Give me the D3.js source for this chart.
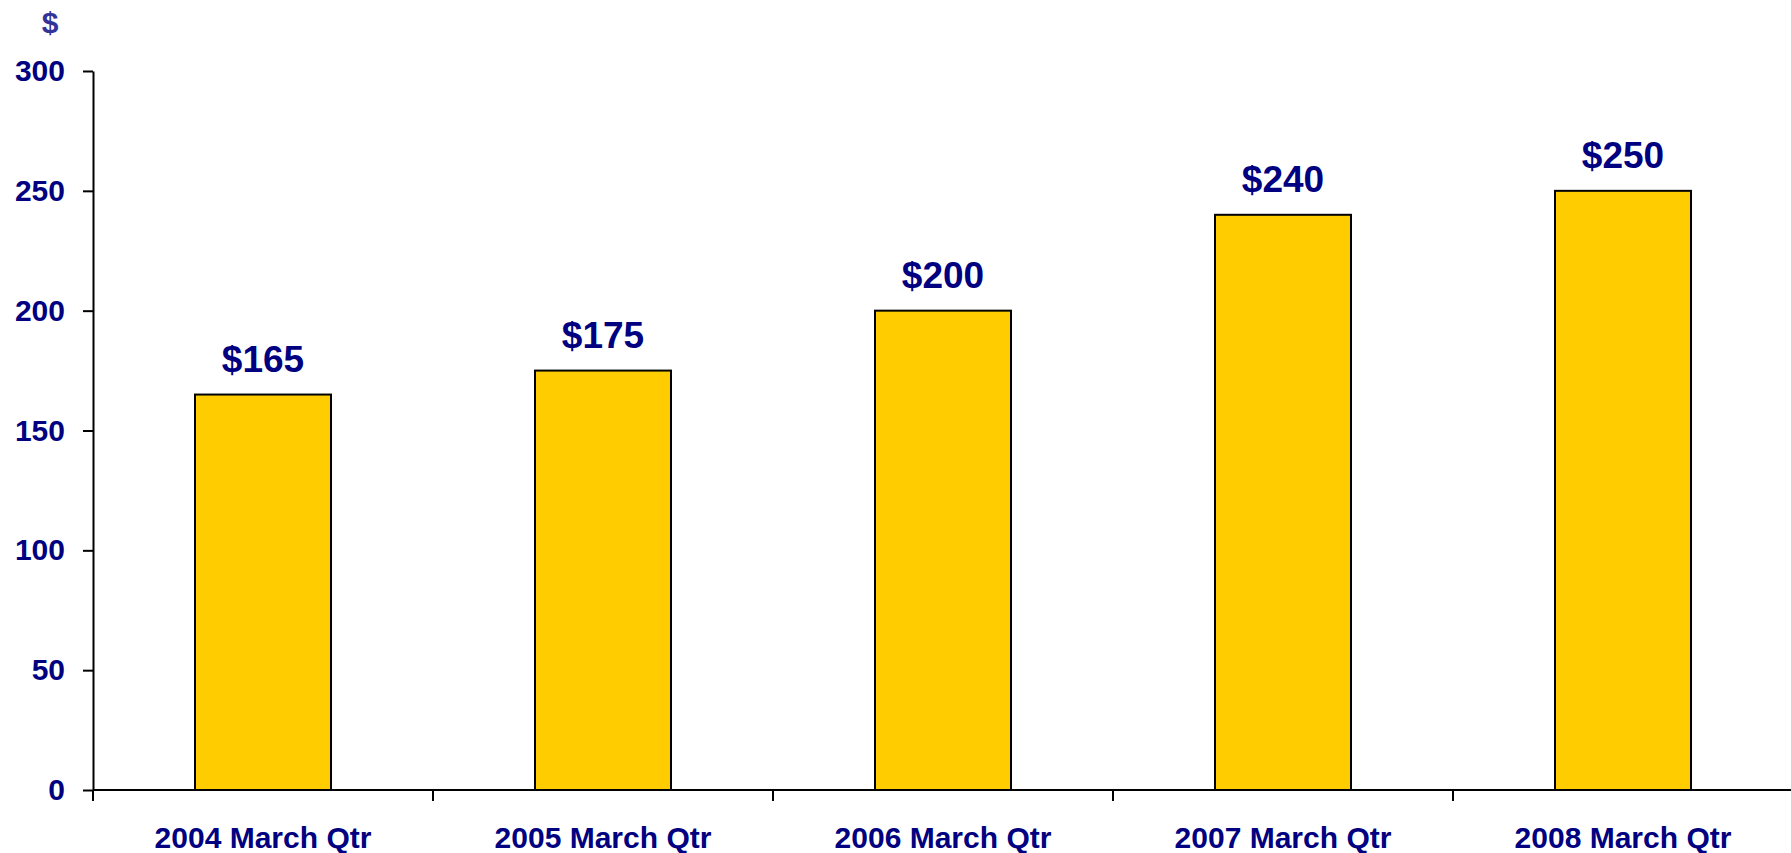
<!DOCTYPE html>
<html>
<head>
<meta charset="utf-8">
<script src="https://cdn.jsdelivr.net/npm/d3@7"></script>
<style>
  html, body { margin: 0; padding: 0; background: #ffffff; }
  svg { display: block; }
  text { font-family: "Liberation Sans", Arial, sans-serif; font-weight: bold; }
</style>
</head>
<body>
<script>
const categories = ["2004 March Qtr", "2005 March Qtr", "2006 March Qtr", "2007 March Qtr", "2008 March Qtr"];
const values = [165, 175, 200, 240, 250];
const valueLabels = ["$165", "$175", "$200", "$240", "$250"];
const yTicks = [0, 50, 100, 150, 200, 250, 300];
const yUnit = "$";

const W = 1791, H = 853;
const margin = { left: 93, top: 71, right: -2, bottom: 63 };
const plotW = W - margin.left - margin.right;
const plotH = H - margin.top - margin.bottom;

const svg = d3.select("body").append("svg").attr("width", W).attr("height", H);
const g = svg.append("g").attr("transform", `translate(${margin.left},${margin.top})`);

const xb = d3.scaleBand().domain(categories).range([0, plotW]);
const y = d3.scaleLinear().domain([0, 300]).range([plotH, 0]);

const navy = "#000080";

// bars
g.selectAll("rect.bar").data(values).enter().append("rect")
  .attr("class", "bar")
  .attr("x", (d, i) => xb(categories[i]) + xb.bandwidth() / 2 - xb.bandwidth() * 0.2)
  .attr("width", xb.bandwidth() * 0.4)
  .attr("y", d => y(d))
  .attr("height", d => y(0) - y(d))
  .attr("fill", "#FFCC00")
  .attr("stroke", "#000")
  .attr("stroke-width", 2);

// value labels
g.selectAll("text.val").data(values).enter().append("text")
  .attr("class", "val")
  .attr("x", (d, i) => xb(categories[i]) + xb.bandwidth() / 2)
  .attr("y", d => y(d) - 23)
  .attr("text-anchor", "middle")
  .attr("fill", navy)
  .attr("font-size", 37)
  .text((d, i) => valueLabels[i]);

// y axis
const yAxis = d3.axisLeft(y).tickValues(yTicks).tickSize(10).tickPadding(18).tickSizeOuter(0);
const ya = g.append("g").call(yAxis);
ya.select(".domain").attr("stroke", "#000").attr("stroke-width", 2);
ya.selectAll(".tick line").attr("stroke", "#000").attr("stroke-width", 2);
ya.selectAll(".tick text").attr("fill", navy).attr("font-size", 30).attr("font-family", "Liberation Sans, Arial, sans-serif").attr("font-weight", "bold");

// x axis line
const xa = g.append("g").attr("transform", `translate(0,${plotH})`);
xa.append("line").attr("x1", 0).attr("x2", plotW).attr("y1", 0).attr("y2", 0)
  .attr("stroke", "#000").attr("stroke-width", 2);
// category separators
const bounds = categories.map(c => xb(c));
xa.selectAll("line.sep").data(bounds).enter().append("line")
  .attr("class", "sep")
  .attr("x1", d => d).attr("x2", d => d)
  .attr("y1", 0).attr("y2", 11)
  .attr("stroke", "#000").attr("stroke-width", 2);
// category labels
xa.selectAll("text.cat").data(categories).enter().append("text")
  .attr("class", "cat")
  .attr("x", d => xb(d) + xb.bandwidth() / 2)
  .attr("y", 58)
  .attr("text-anchor", "middle")
  .attr("fill", navy)
  .attr("font-size", 30)
  .text(d => d);

// unit label
svg.append("text")
  .attr("x", 50).attr("y", 33)
  .attr("text-anchor", "middle")
  .attr("fill", "#333399")
  .attr("font-size", 30)
  .text(yUnit);
</script>
</body>
</html>
